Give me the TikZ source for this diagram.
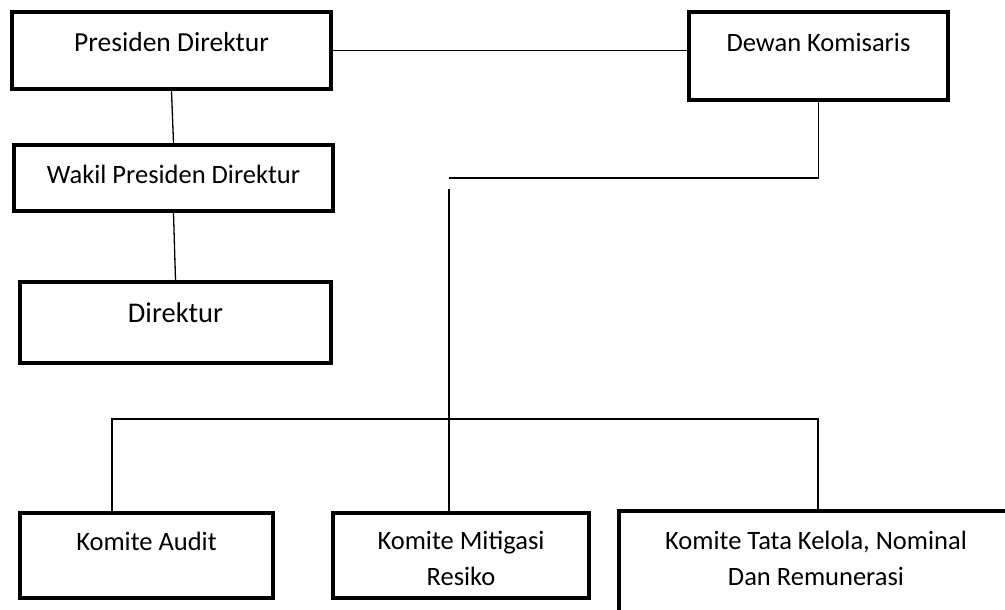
\documentclass[tikz,border=0pt]{standalone}
\usepackage{fontspec}
\setmainfont{Carlito}
\tikzset{
    boxUnit/.style={
        draw,
        line width=4.2pt,
        inner sep=0pt,
        align=center,
        font=\fontsize{26.5}{36}\selectfont
    },
    oneLine/.style={
        text height=18pt
    },
    edgeLine/.style={
        line width=1.3pt
    },
    edgeHeavy/.style={
        line width=2.3pt
    },
}

\begin{document}
\begin{tikzpicture}[x=1pt,y=-1pt]
    \clip (0,0) rectangle (1005,610);

    % upper part
    \node[boxUnit,oneLine,text depth=15pt,minimum width=319pt,minimum height=77pt,font=\fontsize{27.5}{34}\selectfont] (presdir) at (171.5,50.5) {Presiden Direktur};
    \node[boxUnit,oneLine,text depth=8pt,minimum width=319pt,minimum height=66pt] (wakil) at (173.5,178) {Wakil Presiden Direktur};
    \node[boxUnit,oneLine,text depth=19pt,minimum width=311pt,minimum height=81pt,font=\fontsize{28.5}{34}\selectfont] (direktur) at (175.5,322.5) {Direktur};
    \node[boxUnit,oneLine,text depth=26pt,minimum width=259pt,minimum height=88pt] (dewan) at (818.5,56) {Dewan Komisaris};

    % komite
    \node[boxUnit,oneLine,text depth=29pt,minimum width=253pt,minimum height=85pt] (audit) at (146.5,555.5) {Komite Audit};
    \node[boxUnit,text height=59pt,text depth=0pt,minimum width=256pt,minimum height=85pt] (mitigasi) at (461,555.5) {Komite Mitigasi\\Resiko};
    \node[boxUnit,text height=50pt,text depth=3pt,minimum width=394pt,minimum height=101pt] (tataKelola) at (816,561.5) {Komite Tata Kelola, Nominal\\Dan Remunerasi};

    \coordinate (dewanEnd) at (449,178);
    \coordinate (busTop) at (449,189);
    \coordinate (busLeft) at (112,419);
    \coordinate (busRight) at (818,419);

    \draw[edgeLine] (presdir.east) -- (presdir.east -| dewan.west);
    \draw[edgeLine] (presdir.south) -- (wakil.north);
    \draw[edgeLine] (wakil.south) -- (direktur.north);

    \draw[edgeLine] (dewan.south) -- (dewan.south |- dewanEnd);
    \draw[edgeHeavy] (dewan.south |- dewanEnd) -- (dewanEnd);
    \draw[edgeLine] (busTop) -- (busTop |- mitigasi.north);

    \draw[edgeLine] (audit.north -| busLeft) -- (busLeft) -- (busRight) -- (busRight |- tataKelola.north);
\end{tikzpicture}
\end{document}
